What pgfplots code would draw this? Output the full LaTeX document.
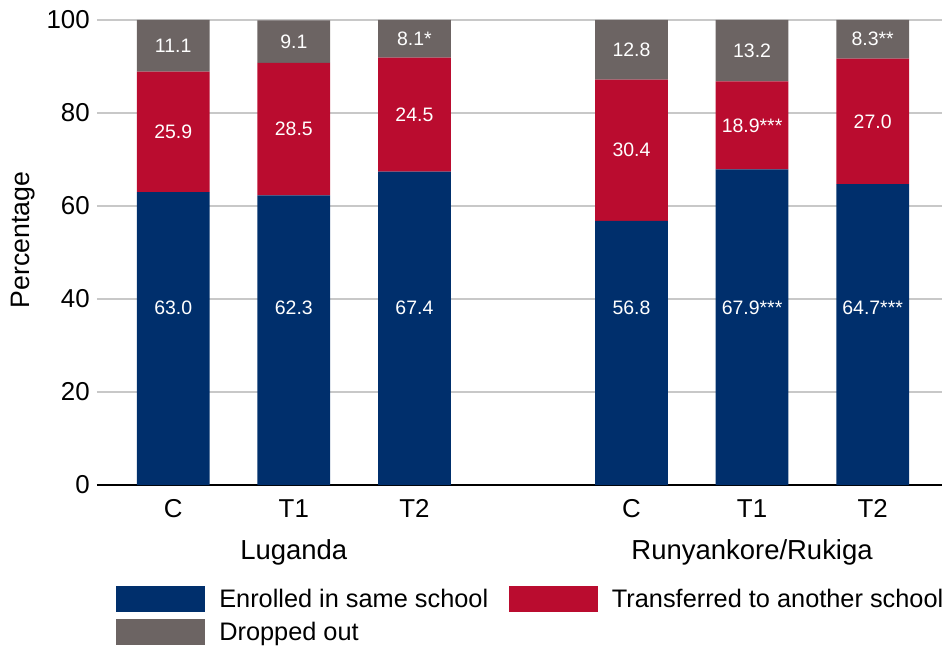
\documentclass[border=0pt]{standalone}
\usepackage{fontspec}
\setmainfont{Liberation Sans}
\usepackage{pgfplots}
\pgfplotsset{compat=1.18}
\definecolor{cblue}{HTML}{002F6C}
\definecolor{cred}{HTML}{BA0C2F}
\definecolor{cgray}{HTML}{6C6463}
\definecolor{cgrid}{HTML}{C8C8C8}

\pgfplotstableread{
x y label
0   38    63.0
1   38    62.3
2   38    67.4
3.8 38    56.8
4.8 38    67.9***
5.8 38    64.7***
0   75.95 25.9
1   76.55 28.5
2   79.65 24.5
3.8 72.0  30.4
4.8 77.35 18.9***
5.8 78.2  27.0
0   94.45 11.1
1   95.35 9.1
2   95.95 8.1*
3.8 93.6  12.8
4.8 93.4  13.2
5.8 95.85 8.3**
}\labeltable

\begin{document}
\begin{tikzpicture}
\pgfplotsset{
  common/.style={scale only axis, width=633.75pt, height=348.75pt,
    at={(72.75pt,123.75pt)}, anchor=south west,
    xmin=-0.632, xmax=6.375, ymin=0, ymax=100, clip=false}
}
\begin{axis}[common, ybar stacked, bar width=0.603,
  axis x line*=bottom, axis y line*=left,
  y axis line style={draw=none},
  x axis line style={line width=1.3pt, black, -},
  ymajorgrids, grid style={cgrid, line width=1.1pt},
  ytick={0,20,...,100},
  xtick={0,1,2,3.8,4.8,5.8}, xticklabels={C,T1,T2,C,T1,T2},
  major tick length=0pt,
  /pgf/number format/assume math mode=true,
  ticklabel style={font=\fontsize{19.4}{23}\selectfont},
  yticklabel style={anchor=east, inner sep=0pt, xshift=-5.25pt},
  xticklabel style={anchor=base, inner sep=0pt, yshift=-24pt},
  ylabel={Percentage},
  ylabel style={at={(axis description cs:-0.0876,0.527)}, anchor=center, font=\fontsize{20}{24}\selectfont},
  legend columns=2,
  legend style={at={(axis description cs:0.0225,-0.2172)}, anchor=north west,
    draw=none, fill=none, inner sep=0pt, row sep=5.25pt,
    nodes={inner sep=1pt},
    font=\fontsize{19}{23}\selectfont,
    /tikz/every odd column/.append style={column sep=9.5pt},
    /tikz/every even column/.append style={column sep=14.5pt}},
  legend cell align=left,
  legend image code/.code={\fill[#1] (0pt,-9.75pt) rectangle (66.75pt,9.75pt);},
]
\addplot[fill=cblue, draw=none] coordinates {(0,63.0) (1,62.3) (2,67.4) (3.8,56.8) (4.8,67.9) (5.8,64.7)};
\addplot[fill=cred, draw=none] coordinates {(0,25.9) (1,28.5) (2,24.5) (3.8,30.4) (4.8,18.9) (5.8,27.0)};
\addplot[fill=cgray, draw=none] coordinates {(0,11.1) (1,9.1) (2,8.1) (3.8,12.8) (4.8,13.2) (5.8,8.3)};
\legend{Enrolled in same school, Transferred to another school, Dropped out}
\node[anchor=base, yshift=-55.5pt, font=\fontsize{20.6}{24}\selectfont] at (axis cs:1,0) {Luganda};
\node[anchor=base, yshift=-55.5pt, font=\fontsize{20.6}{24}\selectfont] at (axis cs:4.8,0) {Runyankore/Rukiga};
\end{axis}
\begin{axis}[common, axis lines=none, xtick=\empty, ytick=\empty]
\addplot[only marks, mark=none, nodes near coords, point meta=explicit symbolic,
  nodes near coords style={anchor=center, text=white, inner sep=0pt, font=\fontsize{14.6}{17}\selectfont}]
  table[x=x, y=y, meta=label] {\labeltable};
\end{axis}
\pgfresetboundingbox
\path[use as bounding box] (0,0) rectangle (706.5pt,487.5pt);
\end{tikzpicture}
\end{document}
